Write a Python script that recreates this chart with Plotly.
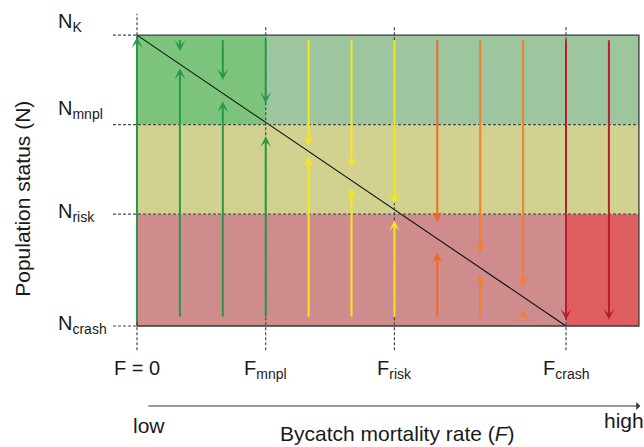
import plotly.graph_objects as go

# ---------------- data ----------------
F_labels = ["F = 0", "F<sub>mnpl</sub>", "F<sub>risk</sub>", "F<sub>crash</sub>"]
F_values = [0, 3, 6, 10]
F_max = 11.7

N_labels = ["N<sub>crash</sub>", "N<sub>risk</sub>", "N<sub>mnpl</sub>", "N<sub>K</sub>"]
N_values = [0, 1.25, 2.25, 3.25]

arrow_x = list(range(12))
up_tail = 0.09
up_tip = [3.23, 2.88, 2.51, 2.12, 1.89, 1.54, 1.18, 0.82, 0.57, 0.18, None, None]
down_tail = 3.21
down_tip = [None, 3.07, 2.75, 2.49, 2.01, 1.77, 1.37, 1.16, 0.82, 0.44, 0.07, 0.07]

GREEN, YELLOW, ORANGE1, ORANGE2, DRED = "#279848", "#f5e620", "#f26822", "#f47e2e", "#b51f2d"
arrow_colors = [GREEN] * 4 + [YELLOW] * 3 + [ORANGE1, ORANGE2, ORANGE2] + [DRED] * 2

# background zones: (x0, x1, y0, y1, colour)
zones = [
    (F_values[0], F_values[1], N_values[2], N_values[3], "#7cc47c"),
    (F_values[1], F_max, N_values[2], N_values[3], "#9dc59e"),
    (F_values[0], F_max, N_values[1], N_values[2], "#d2d290"),
    (F_values[0], F_values[3], N_values[0], N_values[1], "#cf8c8c"),
    (F_values[3], F_max, N_values[0], N_values[1], "#df5e5f"),
]

# ---------------- figure ----------------
W, H = 644, 447
PX_X, PX_Y = 42.9, 89.5
LEFT, BOTTOM = 137, 326
X_RANGE = [-LEFT / PX_X, (W - LEFT) / PX_X]
Y_RANGE = [(BOTTOM - H) / PX_Y, BOTTOM / PX_Y]

fig = go.Figure()
shapes = []
for x0, x1, y0, y1, c in zones:
    shapes.append(dict(type="rect", xref="x", yref="y", x0=x0, x1=x1, y0=y0, y1=y1,
                       fillcolor=c, line=dict(width=0), layer="below"))

DASH = dict(color="#4a4a4a", width=1.2, dash="3px,2px")
for lvl in N_values:
    inner = lvl in (N_values[1], N_values[2])
    shapes.append(dict(type="line", xref="x", yref="y", x0=-0.56,
                       x1=F_max if inner else 0, y0=lvl, y1=lvl, line=DASH, layer="above"))
for i, fv in enumerate(F_values):
    top = 3.49 if i == 0 else 3.36
    shapes.append(dict(type="line", xref="x", yref="y", x0=fv, x1=fv, y0=-0.27, y1=top,
                       line=DASH, layer="above"))
shapes.append(dict(type="rect", xref="x", yref="y", x0=0, x1=F_max, y0=N_values[0], y1=N_values[3],
                   line=dict(color="#3a3a3a", width=1.3), fillcolor="rgba(0,0,0,0)", layer="above"))

fig.add_trace(go.Scatter(x=[F_values[0], F_values[3]], y=[N_values[3], N_values[0]], mode="lines",
                         line=dict(color="#111111", width=1.1), hoverinfo="skip"))

ann = []
for x, ut, dt, c in zip(arrow_x, up_tip, down_tip, arrow_colors):
    if ut is not None:
        ann.append(dict(x=x, y=ut, ax=x, ay=up_tail if x else 0.03, xref="x", yref="y",
                        axref="x", ayref="y", text="", showarrow=True, arrowhead=3,
                        arrowsize=0.9, arrowwidth=2, arrowcolor=c, standoff=0))
    if dt is not None:
        ann.append(dict(x=x, y=dt, ax=x, ay=down_tail, xref="x", yref="y",
                        axref="x", ayref="y", text="", showarrow=True, arrowhead=3,
                        arrowsize=0.9, arrowwidth=2, arrowcolor=c, standoff=0))

FAM = "Liberation Sans, Arial, sans-serif"
FONT_N = dict(family=FAM, size=20, color="#1a1a1a")
FONT = dict(family=FAM, size=21, color="#1a1a1a")
N_shift = [2, 2, 15, 13]
for lab, lvl, sh in zip(N_labels, N_values, N_shift):
    ann.append(dict(x=-1.88, y=lvl, xref="x", yref="y", text=lab, showarrow=False,
                    xanchor="left", yanchor="middle", yshift=sh, font=FONT_N))
for lab, fv in zip(F_labels, F_values):
    ann.append(dict(x=fv, y=-0.32, xref="x", yref="y", text=lab, showarrow=False,
                    xanchor="center", yanchor="top", font=FONT_N))

ann.append(dict(x=11.73, y=-0.894, ax=0.23, ay=-0.894, xref="x", yref="y", axref="x", ayref="y",
                text="", showarrow=True, arrowhead=1, arrowsize=1.1, arrowwidth=1.2,
                arrowcolor="#333333", standoff=0))
ann.append(dict(x=0.28, y=-1.11, xref="x", yref="y", text="low", showarrow=False, font=FONT))
ann.append(dict(x=11.36, y=-1.06, xref="x", yref="y", text="high", showarrow=False, font=FONT))
ann.append(dict(x=6.08, y=-1.2, xref="x", yref="y", text="Bycatch mortality rate (<i>F</i>)",
                showarrow=False, font=FONT))
ann.append(dict(x=-2.66, y=1.42, xref="x", yref="y", text="Population status (N)", textangle=-90,
                showarrow=False, font=FONT))

fig.update_layout(
    width=W, height=H, autosize=False,
    margin=dict(l=0, r=0, t=0, b=0),
    paper_bgcolor="white", plot_bgcolor="white",
    showlegend=False,
    xaxis=dict(range=X_RANGE, visible=False, fixedrange=True),
    yaxis=dict(range=Y_RANGE, visible=False, fixedrange=True),
    shapes=shapes, annotations=ann,
)
fig.write_html("out.html", config={"displayModeBar": False},
               post_script="document.body.style.margin='0';")
